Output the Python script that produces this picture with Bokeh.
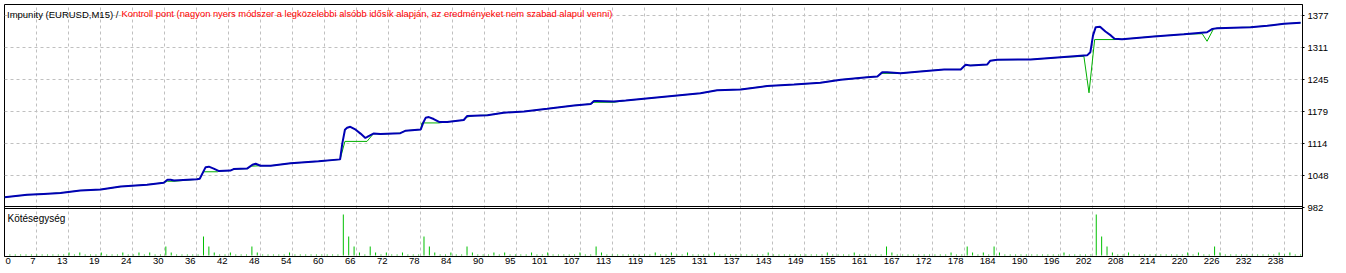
from bokeh.plotting import figure
from bokeh.models import Range1d, FixedTicker, Span, Label, ColumnDataSource
from bokeh.embed import file_html
from bokeh.resources import INLINE

TITLE_SYMBOL = "Impunity (EURUSD,M15) / "
TITLE_MODEL = "Kontroll pont (nagyon nyers módszer a legközelebbi alsóbb idősík alapján, az eredményeket nem szabad alapul venni)"
VOLUME_TITLE = "Kötésegység"

X_TICK_LABELS = ["0", "7", "13", "19", "24", "30", "36", "42", "48", "54", "60", "66", "72", "78",
                 "84", "90", "95", "101", "107", "113", "119", "125", "131", "137", "143", "149",
                 "155", "161", "167", "172", "178", "184", "190", "196", "202", "208", "214", "220",
                 "226", "232", "238"]
Y_TICK_LABELS = ["982", "1048", "1114", "1179", "1245", "1311", "1377"]

# balance curve (trade number, balance)
BALANCE_T = [0, 4.2, 7.3, 10.4, 14.1, 17.9, 21.6, 26.5, 29.6, 30.3,
             30.9, 31.5, 35.8, 36.3, 37.4, 38.0, 38.9, 39.9, 42.0, 42.6,
             45.1, 46.1, 46.7, 47.6, 49.5, 53.2, 58.4, 62.4, 62.8, 63.3,
             63.7, 64.3, 65.3, 66.2, 67.1, 67.7, 68.6, 69.9, 73.6, 74.6,
             77.4, 77.9, 78.3, 78.9, 79.8, 80.8, 82.3, 85.4, 86.0, 87.3,
             89.8, 92.8, 96.6, 100.9, 105.9, 109.0, 109.6, 110.1, 113.3, 115.5,
             129.4, 132.5, 136.9, 141.8, 146.8, 151.7, 155.5, 160.4, 162.3, 163.2,
             164.1, 166.6, 170.3, 174.7, 177.8, 178.7, 179.6, 182.7, 183.3, 184.6,
             190.8, 196.4, 201.3, 201.9, 202.4, 202.9, 203.7, 204.7, 205.7, 206.4,
             207.8, 213.7, 219.3, 223.6, 224.6, 225.5, 231.7, 234.8, 237.9, 241.0]
BALANCE_V = [1003, 1008, 1010, 1012, 1017, 1019, 1025, 1029, 1033, 1039,
             1039, 1037.5, 1040, 1041, 1065, 1066, 1062, 1057, 1058, 1061,
             1062, 1070, 1072, 1068, 1068, 1073, 1077, 1081, 1113, 1142,
             1146, 1148, 1142, 1134, 1125, 1129, 1134, 1133, 1135, 1140,
             1142.5, 1157.5, 1166.5, 1168, 1164, 1158, 1158, 1162, 1170, 1171,
             1172, 1177, 1179.5, 1185, 1192, 1195, 1201, 1201, 1200, 1202,
             1217, 1223, 1225, 1232, 1235, 1238.5, 1245, 1250, 1251.5, 1260,
             1260, 1258, 1262, 1266, 1266, 1275.5, 1274, 1276, 1284, 1286,
             1286.5, 1291, 1295, 1301.5, 1336, 1353, 1354, 1344, 1336, 1329,
             1328, 1334, 1338.5, 1342.5, 1349.5, 1351, 1353, 1356, 1360, 1362]

# equity curve (trade number, equity)
EQUITY_T = [0, 4.2, 7.3, 10.4, 14.1, 17.9, 21.6, 26.5, 29.6, 30.3,
            31.5, 35.8, 36.3, 37.0, 39.6, 39.9, 42.0, 42.6, 45.1, 45.9,
            47.6, 49.5, 53.2, 58.4, 62.4, 63.3, 67.4, 68.6, 69.9, 73.6,
            74.6, 77.4, 77.6, 80.8, 82.3, 85.4, 86.0, 87.3, 89.8, 92.8,
            96.6, 100.9, 105.9, 109.0, 109.6, 113.3, 115.5, 129.4, 132.5, 136.9,
            141.8, 146.8, 151.7, 155.5, 160.4, 162.3, 162.9, 166.6, 170.3, 174.7,
            177.8, 178.7, 182.7, 183.3, 184.6, 190.8, 196.4, 200.7, 201.65, 202.7,
            206.3, 207.8, 213.7, 219.3, 222.7, 223.6, 224.8, 225.5, 231.7, 234.8,
            237.9, 241.0]
EQUITY_V = [1003, 1008, 1010, 1012, 1017, 1019, 1025, 1029, 1033, 1036,
            1036, 1040, 1041, 1055.5, 1055.5, 1057, 1058, 1061, 1062, 1067,
            1068, 1068, 1073, 1077, 1081, 1118, 1118, 1134, 1133, 1135,
            1140, 1142.5, 1156, 1156, 1158, 1162, 1168, 1171, 1172, 1177,
            1179.5, 1185, 1192, 1195, 1198.5, 1198.5, 1202, 1217, 1223, 1225,
            1232, 1235, 1238.5, 1245, 1250, 1251.5, 1258, 1258, 1262, 1266,
            1266, 1274, 1276, 1284, 1286, 1286.5, 1291, 1293, 1218, 1327.5,
            1327.5, 1328, 1334, 1338.5, 1339.5, 1324, 1349.5, 1351, 1353, 1356,
            1360, 1362]

# lot size of trades 1..241
LOTS = [
    0.01, 0.01, 0.01, 0.01, 0.01, 0.01, 0.01, 0.01, 0.01, 0.01,  # 1-10
    0.01, 0.03, 0.01, 0.03, 0.01, 0.01, 0.01, 0.03, 0.01, 0.01,  # 11-20
    0.01, 0.03, 0.01, 0.01, 0.03, 0.01, 0.03, 0.01, 0.01, 0.09,  # 21-30
    0.03, 0.01, 0.01, 0.01, 0.01, 0.01, 0.19, 0.09, 0.03, 0.01,  # 31-40
    0.01, 0.03, 0.01, 0.01, 0.01, 0.09, 0.03, 0.01, 0.01, 0.01,  # 41-50
    0.01, 0.01, 0.03, 0.01, 0.01, 0.01, 0.01, 0.01, 0.01, 0.01,  # 51-60
    0.01, 0.01, 0.41, 0.19, 0.09, 0.03, 0.01, 0.09, 0.03, 0.01,  # 61-70
    0.03, 0.01, 0.01, 0.03, 0.01, 0.01, 0.01, 0.19, 0.09, 0.03,  # 71-80
    0.01, 0.01, 0.03, 0.01, 0.01, 0.09, 0.03, 0.01, 0.01, 0.01,  # 81-90
    0.03, 0.01, 0.03, 0.01, 0.01, 0.01, 0.01, 0.03, 0.01, 0.01,  # 91-100
    0.03, 0.01, 0.01, 0.01, 0.01, 0.01, 0.03, 0.01, 0.01, 0.09,  # 101-110
    0.03, 0.01, 0.01, 0.01, 0.01, 0.01, 0.01, 0.01, 0.01, 0.01,  # 111-120
    0.03, 0.01, 0.01, 0.03, 0.01, 0.01, 0.03, 0.01, 0.01, 0.01,  # 121-130
    0.01, 0.03, 0.01, 0.01, 0.01, 0.01, 0.01, 0.01, 0.01, 0.01,  # 131-140
    0.01, 0.03, 0.01, 0.01, 0.01, 0.01, 0.01, 0.01, 0.01, 0.01,  # 141-150
    0.01, 0.01, 0.03, 0.01, 0.01, 0.01, 0.01, 0.03, 0.01, 0.01,  # 151-160
    0.01, 0.01, 0.01, 0.09, 0.03, 0.01, 0.01, 0.01, 0.01, 0.01,  # 161-170
    0.01, 0.01, 0.01, 0.01, 0.01, 0.03, 0.01, 0.01, 0.09, 0.03,  # 171-180
    0.01, 0.03, 0.01, 0.09, 0.03, 0.01, 0.01, 0.01, 0.01, 0.01,  # 181-190
    0.01, 0.01, 0.01, 0.01, 0.01, 0.01, 0.03, 0.01, 0.01, 0.01,  # 191-200
    0.01, 0.01, 0.41, 0.19, 0.09, 0.03, 0.01, 0.01, 0.03, 0.01,  # 201-210
    0.01, 0.01, 0.01, 0.01, 0.01, 0.01, 0.01, 0.01, 0.01, 0.03,  # 211-220
    0.01, 0.03, 0.01, 0.01, 0.09, 0.03, 0.01, 0.01, 0.01, 0.01,  # 221-230
    0.01, 0.01, 0.01, 0.01, 0.01, 0.01, 0.03, 0.01, 0.03, 0.01,  # 231-240
    0.01,                                                        # 241
]
TRADES = list(range(1, len(LOTS) + 1))

# ---- geometry (pixels) ----
W, H = 1346, 273
LEFT, TOP, RIGHT_EDGE, BOTTOM_EDGE = 4, 4, 1302, 256
FRAME_W = RIGHT_EDGE - LEFT
FRAME_H = BOTTOM_EDGE - TOP
SPLIT_PX = 207                     # y pixel of the 982 level / panel split
TICK_PX = 32                       # px between x ticks and y ticks
X_STEP = 238 / 40                  # trades per x tick
Y_STEP = (1377 - 982) / 6          # balance units per y tick
XPX = X_STEP / TICK_PX
YPX = Y_STEP / TICK_PX

x_end = FRAME_W * XPX
y_start = 982 - (BOTTOM_EDGE - SPLIT_PX) * YPX
y_end = 982 + (SPLIT_PX - TOP) * YPX
vol_start = -0.01
vol_end = vol_start + FRAME_H / 100.0

FONT = "Liberation Sans"
AX_FS = 9.5
DIGIT_W = 0.556 * AX_FS            # approx. width of one digit in px

p = figure(width=W, height=H, output_backend="svg", toolbar_location=None,
           x_range=Range1d(0, x_end), y_range=Range1d(y_start, y_end),
           y_axis_location="right",
           min_border_left=LEFT, min_border_top=TOP,
           min_border_right=W - RIGHT_EDGE, min_border_bottom=H - BOTTOM_EDGE)
p.extra_y_ranges = {"vol": Range1d(vol_start, vol_end)}
p.background_fill_color = "white"
p.border_fill_color = "white"
p.outline_line_color = "black"
p.outline_line_width = 1

x_ticks = [k * X_STEP for k in range(len(X_TICK_LABELS))]
y_ticks = [982 + k * Y_STEP for k in range(len(Y_TICK_LABELS))]

# x labels: right-aligned just left of their grid line (first one left-aligned)
x_label_pos = []
for k, (t, lab) in enumerate(zip(x_ticks, X_TICK_LABELS)):
    half = (len(lab) * DIGIT_W) / 2 + 1
    x_label_pos.append(t + half * XPX if k == 0 else t - half * XPX)

xa = p.xaxis[0]
xa.ticker = FixedTicker(ticks=x_label_pos)
xa.major_label_overrides = {pos: lab for pos, lab in zip(x_label_pos, X_TICK_LABELS)}
xa.major_label_text_font = FONT
xa.major_label_text_font_size = f"{AX_FS}px"
xa.major_label_text_color = "black"
xa.major_label_standoff = 1
xa.major_tick_out = 0
xa.major_tick_in = 0
xa.minor_tick_out = 0
xa.minor_tick_in = 0
xa.axis_line_color = "black"

ya = p.yaxis[0]
ya.ticker = FixedTicker(ticks=y_ticks)
ya.major_label_overrides = {t: lab for t, lab in zip(y_ticks, Y_TICK_LABELS)}
ya.major_label_text_font = FONT
ya.major_label_text_font_size = f"{AX_FS}px"
ya.major_label_text_color = "black"
ya.major_label_standoff = 3
ya.major_tick_out = 2
ya.major_tick_in = 0
ya.minor_tick_out = 0
ya.minor_tick_in = 0
ya.axis_line_color = "black"

p.xgrid.ticker = FixedTicker(ticks=x_ticks)
p.ygrid.ticker = FixedTicker(ticks=y_ticks[1:])
for g in (p.xgrid, p.ygrid):
    g.grid_line_color = "#c0c0c0"
    g.grid_line_dash = "3 3"
    g.grid_line_width = 1

# panel separator (double line)
p.add_layout(Span(location=982 + YPX, dimension="width", line_color="black", line_width=1))
p.add_layout(Span(location=982 - YPX, dimension="width", line_color="black", line_width=1))

# volume bars
vol_src = ColumnDataSource(dict(x=TRADES, top=LOTS, bottom=[0] * len(LOTS)))
p.segment(x0="x", y0="bottom", x1="x", y1="top", source=vol_src, y_range_name="vol",
          line_color="#00c000", line_width=1)

# equity (green) then balance (blue)
p.line(EQUITY_T, EQUITY_V, line_color="#00b000", line_width=1)
p.line(BALANCE_T, BALANCE_V, line_color="#0000b4", line_width=2)

# titles
p.add_layout(Label(x=2.5, y=FRAME_H - 9.5, x_units="screen", y_units="screen",
                   text=TITLE_SYMBOL, text_font=FONT, text_font_size="9.5px",
                   text_color="black", text_baseline="middle"))
p.add_layout(Label(x=117, y=FRAME_H - 9.5, x_units="screen", y_units="screen",
                   text=TITLE_MODEL, text_font=FONT, text_font_size="9.35px",
                   text_color="#ff0000", text_baseline="middle"))
p.add_layout(Label(x=3, y=BOTTOM_EDGE - 217.5, x_units="screen", y_units="screen",
                   text=VOLUME_TITLE, text_font=FONT, text_font_size="10px",
                   text_color="black", text_baseline="middle"))

open("out.html", "w").write(file_html(p, INLINE))
